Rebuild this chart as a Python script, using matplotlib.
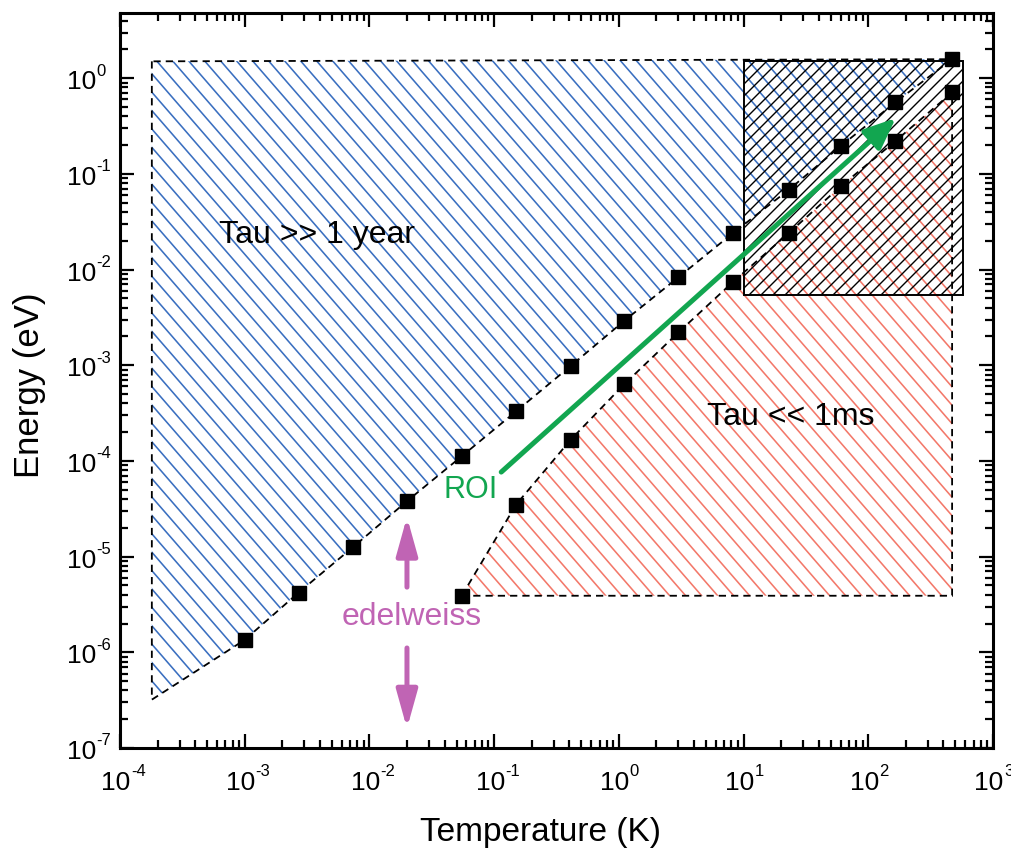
import numpy as np
import matplotlib
matplotlib.use("Agg")
import matplotlib.pyplot as plt
from matplotlib.patches import Polygon, Rectangle
from matplotlib.collections import LineCollection
from matplotlib.transforms import IdentityTransform
from matplotlib.ticker import LogLocator, NullFormatter, FixedLocator

plt.rcParams['font.family'] = ['Liberation Sans', 'DejaVu Sans']

# ---------------- data ----------------
T_upper = [1.0e-3, 2.7e-3, 7.4e-3, 2.0e-2, 5.5e-2, 0.15, 0.41, 1.1, 3.0, 8.2, 23, 60, 165, 470]
E_upper = [1.35e-6, 4.2e-6, 1.26e-5, 3.8e-5, 1.12e-4, 3.3e-4, 9.8e-4, 2.9e-3, 8.3e-3,
           2.4e-2, 0.068, 0.195, 0.56, 1.58]
T_lower = [5.5e-2, 0.15, 0.41, 1.1, 3.0, 8.2, 23, 60, 165, 470]
E_lower = [3.9e-6, 3.5e-5, 1.66e-4, 6.3e-4, 2.2e-3, 7.4e-3, 2.4e-2, 7.4e-2, 0.22, 0.71]

blue_T_left = 1.8e-4
blue_E_top = 1.5
blue_E_corner = 3.2e-7
red_E_bottom = 3.9e-6

box_T = [10, 573]
box_E = [5.4e-3, 1.5]

roi_arrow_T = [0.114, 166]
roi_arrow_E = [7.65e-5, 0.383]
edel_T = 0.020
edel_up_E = [4.8e-6, 2.6e-5]
edel_down_E = [1.11e-6, 1.6e-7]

x_exponents = [-4, -3, -2, -1, 0, 1, 2, 3]
y_exponents = [-7, -6, -5, -4, -3, -2, -1, 0]

xlim = (1e-4, 1e3)
ylim = (1e-7, 4.8)

BLUE = '#3a6fc0'
RED = '#f3786a'
GREEN = '#12a650'
MAGENTA = '#c064b4'

W, H = 1012, 858
fig = plt.figure(figsize=(W / 100, H / 100), dpi=100)
ax = fig.add_axes([120 / W, (H - 748) / H, (993 - 120) / W, (748 - 13) / H])
ax.set_xscale('log')
ax.set_yscale('log')
ax.set_xlim(*xlim)
ax.set_ylim(*ylim)


def hatch(patch, spacing, slope, color, lw, zorder):
    segs = []
    step = spacing * abs(slope)
    for b in np.arange(-3 * (W + H), 3 * (W + H), step):
        segs.append([(0, b), (W, b + slope * W)])
    lc = LineCollection(segs, colors=color, linewidths=lw,
                        transform=IdentityTransform(), zorder=zorder)
    ax.add_collection(lc, autolim=False)
    lc.set_clip_path(patch)


dash = (0, (4, 2.8))

# blue region
blue_verts = [(blue_T_left, blue_E_top), (blue_T_left, blue_E_corner)] + list(zip(T_upper, E_upper))
blue_poly = Polygon(blue_verts, closed=True, fill=False, edgecolor='black',
                    linewidth=1.3, linestyle=dash, zorder=4)
ax.add_patch(blue_poly)
hatch(blue_poly, 16, -1.15, BLUE, 1.15, 2)

# red region
red_verts = list(zip(T_lower, E_lower)) + [(T_lower[-1], red_E_bottom)]
red_poly = Polygon(red_verts, closed=True, fill=False, edgecolor='black',
                   linewidth=1.3, linestyle=dash, zorder=4)
ax.add_patch(red_poly)
hatch(red_poly, 16, -1.15, RED, 1.15, 2)

# black cross-hatched box
box = Rectangle((box_T[0], box_E[0]), box_T[1] - box_T[0], box_E[1] - box_E[0],
                fill=False, edgecolor='black', linewidth=1.4, zorder=4)
ax.add_patch(box)
hatch(box, 12, 1.0, 'black', 1.0, 3)

# data points
ax.plot(T_upper, E_upper, 's', color='black', markersize=9.5, zorder=6)
ax.plot(T_lower, E_lower, 's', color='black', markersize=9.5, zorder=6)

# ROI arrow
ax.annotate('', xy=(roi_arrow_T[1], roi_arrow_E[1]), xytext=(roi_arrow_T[0], roi_arrow_E[0]),
            arrowprops=dict(arrowstyle='-|>,head_length=0.95,head_width=0.4',
                            color=GREEN, lw=3.6, mutation_scale=20,
                            shrinkA=0, shrinkB=0), zorder=7)
ax.text(0.0643, 4.97e-5, 'ROI', color=GREEN, fontsize=22, ha='center', va='center', zorder=7)

# edelweiss arrows
for ys in (edel_up_E, edel_down_E):
    ax.annotate('', xy=(edel_T, ys[1]), xytext=(edel_T, ys[0]),
                arrowprops=dict(arrowstyle='-|>,head_length=1.15,head_width=0.32',
                                color=MAGENTA, lw=3.6, mutation_scale=20,
                                shrinkA=0, shrinkB=0), zorder=7)
ax.text(0.0219, 2.34e-6, 'edelweiss', color=MAGENTA, fontsize=23, ha='center', va='center', zorder=7)

ax.text(3.78e-3, 0.0229, 'Tau >> 1 year', color='black', fontsize=23, ha='center', va='center', zorder=7)
ax.text(23.7, 2.88e-4, 'Tau << 1ms', color='black', fontsize=23, ha='center', va='center', zorder=7)

# axes styling
for s in ax.spines.values():
    s.set_linewidth(2.2)
ax.xaxis.set_major_locator(FixedLocator([10.0 ** e for e in x_exponents]))
ax.yaxis.set_major_locator(FixedLocator([10.0 ** e for e in y_exponents]))
ax.xaxis.set_minor_locator(LogLocator(base=10, subs=np.arange(2, 10), numticks=20))
ax.yaxis.set_minor_locator(LogLocator(base=10, subs=np.arange(2, 10), numticks=20))
ax.xaxis.set_major_formatter(NullFormatter())
ax.yaxis.set_major_formatter(NullFormatter())
ax.xaxis.set_minor_formatter(NullFormatter())
ax.yaxis.set_minor_formatter(NullFormatter())
ax.tick_params(which='both', direction='in', top=True, right=True, width=1.6)
ax.tick_params(which='major', length=10)
ax.tick_params(which='minor', length=5.5)

# tick labels drawn as "10" plus a small superscript
for e in x_exponents:
    ax.annotate('10', xy=(10.0 ** e, 0), xycoords=('data', 'axes fraction'),
                xytext=(-4, -35), textcoords='offset pixels', ha='center', va='center',
                fontsize=19, annotation_clip=False)
    ax.annotate('%d' % e, xy=(10.0 ** e, 0), xycoords=('data', 'axes fraction'),
                xytext=(11, -24), textcoords='offset pixels', ha='left', va='center',
                fontsize=12, annotation_clip=False)
for e in y_exponents:
    ax.annotate('10', xy=(0, 10.0 ** e), xycoords=('axes fraction', 'data'),
                xytext=(-24, -4), textcoords='offset pixels', ha='right', va='center',
                fontsize=19, annotation_clip=False)
    ax.annotate('%d' % e, xy=(0, 10.0 ** e), xycoords=('axes fraction', 'data'),
                xytext=(-24, 7), textcoords='offset pixels', ha='left', va='center',
                fontsize=12, annotation_clip=False)

fig.text(540 / W, 1 - 833 / H, 'Temperature (K)', fontsize=24, ha='center', va='center')
fig.text(30 / W, 1 - 385 / H, 'Energy (eV)', fontsize=25, ha='center', va='center', rotation=90)

fig.savefig('out.png', dpi=100)
